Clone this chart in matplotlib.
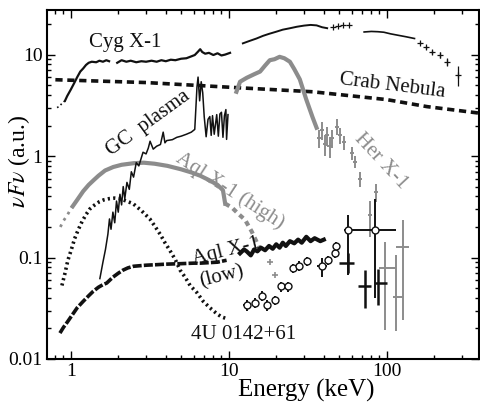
import numpy as np
import matplotlib.pyplot as plt
from matplotlib.ticker import LogLocator, FixedLocator, FixedFormatter, NullFormatter

plt.rcParams['font.family'] = 'Liberation Serif'
plt.rcParams['mathtext.fontset'] = 'stix'

BLACK = '#111111'
GRAY = '#8c8c8c'

# Cyg X-1 (keV, nuFnu)
cyg_dot_e = [0.82, 0.85, 0.88, 0.92]
cyg_dot_v = [3.0, 3.1, 3.3, 3.5]
cyg_lo_e = [0.92, 0.95, 1.0, 1.05, 1.1, 1.15, 1.2, 1.25, 1.3, 1.36, 1.45, 1.52, 1.6, 1.68, 1.75,
            np.nan, 1.97, 2.1, 2.25, 2.4, 2.6, 2.8, 3.0, 3.25, 3.5, 3.75, 4.0, 4.3, 4.6, 5.0,
            5.4, 5.8, 6.1, 6.4, 6.6, 6.8, 7.1, 7.5, 8.0, 8.5, 9.0, 9.5, 10.2]
cyg_lo_v = [3.5, 3.9, 4.5, 5.2, 6.0, 6.8, 7.3, 7.9, 8.3, 8.5, 8.4, 8.7, 8.5, 8.8, 8.6,
            np.nan, 8.3, 8.8, 8.5, 8.7, 8.4, 8.6, 8.5, 8.7, 8.5, 8.8, 8.6, 8.9, 8.8, 9.1,
            9.2, 9.6, 9.9, 10.7, 11.3, 10.6, 10.2, 10.4, 9.9, 10.3, 9.8, 10.0, 10.4]
cyg_hi_e = [12.3, 13.5, 15.0, 16.5, 18.0, 20.0, 22.0, 24.5, 27.0, 30.0, 33.0, 36.0, 39.0, 42.0]
cyg_hi_v = [12.9, 13.6, 14.4, 15.3, 16.0, 16.8, 17.6, 18.2, 18.8, 19.3, 19.6, 19.4, 18.6, 18.2]
cyg_x1_e = [45.5, 49.0, 53.0, 58.0]
cyg_x1_v = [18.7, 19.0, 19.5, 19.5]
cyg_mid_e = [72.0, 80.0, 88.0, 96.0, 106.0, 118.0, 132.0, 150.0]
cyg_mid_v = [16.7, 16.9, 16.8, 16.6, 16.0, 15.5, 15.0, 14.4]
cyg_x2_e = [162.0, 178.0, 195.0, 216.0, 240.0, 282.0]
cyg_x2_v = [13.0, 11.8, 10.6, 9.9, 8.5, 6.3]
cyg_x2_err = [0.4, 0.4, 0.5, 0.6, 0.7, 1.4]

# Crab Nebula
crab_e = [0.8, 3.0, 11.3, 34.0, 100.0, 180.0, 384.0]
crab_v = [5.65, 5.3, 4.72, 4.3, 3.6, 3.07, 2.65]

# GC plasma
gc_e = [1.53, 1.6, 1.66, 1.72, 1.76, 1.8, 1.85, 1.9, 1.95, 2.0, 2.05, 2.1, 2.15, 2.2, 2.27,
        2.35, 2.42, 2.5, 2.6, 2.7, 2.87, 3.0, 3.1, 3.18, 3.33, 3.5, 3.7, 3.85, 3.95, 4.05, 4.4,
        4.7, 5.0, 5.4, 5.8, 6.1, 6.3, 6.4, 6.55, 6.7, 6.85, 7.0, 7.2, 7.4, 7.6, 7.75, 7.9,
        8.1, 8.4, 8.6, 8.8, 9.0, 9.2, 9.4, 9.6, 9.7, 9.9]
gc_v = [0.062, 0.09, 0.12, 0.17, 0.24, 0.19, 0.28, 0.22, 0.36, 0.28, 0.42, 0.33, 0.5, 0.38, 0.55,
        0.47, 0.7, 0.62, 0.86, 0.8, 1.09, 1.05, 1.2, 1.4, 1.17, 1.25, 1.3, 1.72, 1.35, 1.42, 1.45,
        1.53, 1.57, 1.64, 1.72, 1.83, 4.8, 6.0, 3.5, 5.4, 4.2, 2.45, 1.55, 2.3, 2.45, 1.6, 2.5,
        1.64, 2.56, 1.57, 2.6, 2.7, 1.53, 2.5, 2.87, 1.46, 2.56]

# Aql X-1 (high)
aqlh_dot_e = [0.86, 0.9, 0.95, 1.0, 1.03]
aqlh_dot_v = [0.2, 0.23, 0.26, 0.3, 0.32]
aqlh_e = [1.03, 1.1, 1.2, 1.3, 1.4, 1.5, 1.65, 1.86, 2.1, 2.5, 2.9, 3.4, 4.1, 5.0, 5.8,
          6.6, 7.5, 8.5, 9.2, 9.5]
aqlh_v = [0.32, 0.37, 0.45, 0.52, 0.58, 0.64, 0.72, 0.78, 0.82, 0.85, 0.86, 0.84, 0.80, 0.74,
          0.69, 0.64, 0.58, 0.52, 0.46, 0.34]
aqlh_tail_e = [9.5, 10.5, 11.5, 12.7, 14.0, 15.1, 15.8]
aqlh_tail_v = [0.34, 0.31, 0.27, 0.235, 0.18, 0.14, 0.12]
aqlh_x_e = [18.3, 19.6]
aqlh_x_v = [0.091, 0.067]
hard_gray_e = [97.5, 115.0, 126.0]
hard_gray_v = [0.078, 0.041, 0.128]
hard_gray_lo = [0.0195, 0.019, 0.0245]
hard_gray_hi = [0.143, 0.106, 0.232]
hard_gray_elo = [90.0, 109.0, 115.0]
hard_gray_ehi = [115.0, 126.0, 138.0]

# Her X-1
her_e = [11.2, 11.8, 13.0, 14.5, 15.8, 17.0, 18.2, 19.5, 21.0, 22.5, 24.4, 26.0, 28.2,
         31.0, 34.0, 36.0]
her_v = [4.3, 5.4, 5.9, 6.4, 6.8, 7.8, 8.8, 9.0, 9.5, 9.2, 8.5, 7.2, 5.7, 3.6, 2.4, 1.9]
her_x_e = [37.5, 39.0, 40.5, 42.0, 43.5, 45.0, 48.5, 50.6, 54.0, 60.0, 63.0, 67.5, 78.0, 86.0]
her_x_v = [1.5, 1.8, 1.3, 1.6, 1.25, 1.5, 1.95, 1.6, 1.36, 1.07, 0.88, 0.6, 0.26, 0.44]
her_x_err = [0.3, 0.35, 0.3, 0.35, 0.3, 0.3, 0.35, 0.3, 0.2, 0.15, 0.12, 0.1, 0.1, 0.09]

# Aql X-1 (low)
aqll_e = [0.855, 0.9, 0.95, 1.02, 1.1, 1.2, 1.3, 1.39, 1.5, 1.6, 1.69, 1.85, 2.0, 2.14,
          2.3, 2.5, 3.0, 3.5, 4.0, 5.0, 6.0, 6.6, 7.5, 8.5, 9.7]
aqll_v = [0.018, 0.0205, 0.023, 0.027, 0.032, 0.037, 0.042, 0.0465, 0.051, 0.054, 0.056,
          0.064, 0.07, 0.075, 0.079, 0.082, 0.084, 0.085, 0.086, 0.087, 0.088, 0.088, 0.089,
          0.09, 0.094]
aqll_hi_e = [11.8, 12.5, 13.0, 13.8, 14.5, 15.2, 16.0, 17.0, 18.0, 19.0, 20.0, 21.0, 22.0,
             23.0, 24.4, 26.0, 27.5, 29.0, 31.0, 33.0, 35.0, 38.0, 40.0]
aqll_hi_v = [0.11, 0.12, 0.115, 0.105, 0.12, 0.115, 0.125, 0.118, 0.13, 0.122, 0.135, 0.125,
             0.14, 0.13, 0.145, 0.138, 0.15, 0.14, 0.16, 0.145, 0.155, 0.145, 0.15]
aqll_x_e = [57.0, 73.0, 88.5]
aqll_x_v = [0.088, 0.052, 0.056]
aqll_x_lo = [0.07, 0.032, 0.034]
aqll_x_hi = [0.11, 0.075, 0.077]
aqll_x_elo = [50.0, 66.0, 84.0]
aqll_x_ehi = [62.0, 80.0, 100.0]

# 4U 0142+61
u_e = [0.88, 0.92, 0.96, 1.01, 1.06, 1.12, 1.18, 1.25, 1.32, 1.42, 1.52, 1.62, 1.75, 1.9,
       2.05, 2.25, 2.48, 2.8, 3.17, 3.4, 3.68, 3.95, 4.25, 4.6, 4.93, 5.3, 5.7, 6.3, 6.9,
       7.6, 8.4, 9.0, 9.7]
u_v = [0.053, 0.07, 0.094, 0.12, 0.154, 0.19, 0.226, 0.265, 0.3, 0.33, 0.355, 0.37, 0.38,
       0.385, 0.38, 0.36, 0.34, 0.29, 0.24, 0.205, 0.17, 0.14, 0.117, 0.095, 0.075, 0.064,
       0.053, 0.045, 0.037, 0.032, 0.028, 0.026, 0.025]
u_tail_e = [13.0, 14.6, 16.2, 17.5, 19.6, 21.5, 23.6, 25.5, 28.0, 31.5, 39.0, 42.5, 47.0,
            48.0, 57.0, 84.5]
u_tail_v = [0.034, 0.036, 0.042, 0.034, 0.038, 0.052, 0.052, 0.078, 0.083, 0.092, 0.082,
            0.094, 0.11, 0.13, 0.186, 0.186]
u_tail_lo = [0.03, 0.032, 0.037, 0.03, 0.034, 0.046, 0.046, 0.07, 0.074, 0.082, 0.065,
             0.084, 0.1, 0.118, 0.067, 0.04]
u_tail_hi = [0.038, 0.04, 0.047, 0.038, 0.042, 0.058, 0.058, 0.086, 0.092, 0.102, 0.1,
             0.104, 0.12, 0.142, 0.26, 0.38]
u_tail_elo = [12.4, 14.0, 15.6, 16.9, 19.0, 20.8, 22.9, 24.7, 27.0, 30.4, 36.0, 41.0, 45.5,
              46.5, 54.0, 58.5]
u_tail_ehi = [13.6, 15.2, 16.8, 18.1, 20.2, 22.2, 24.3, 26.3, 29.0, 32.6, 42.0, 44.0, 48.5,
              49.5, 60.0, 115.0]

fig = plt.figure(figsize=(4.8, 4.03), dpi=100)
ax = fig.add_axes([0.0973, 0.1092, 0.9006, 0.866])
ax.set_xscale('log')
ax.set_yscale('log')

# Crab
ax.plot(crab_e, crab_v, color=BLACK, lw=2.6, linestyle=(0, (2.0, 1.3)), zorder=2)

# Cyg X-1
ax.plot(cyg_dot_e, cyg_dot_v, color=BLACK, lw=1.2, linestyle=':', zorder=3)
ax.plot(cyg_lo_e, cyg_lo_v, color=BLACK, lw=1.6, zorder=3)
ax.plot(cyg_hi_e, cyg_hi_v, color=BLACK, lw=1.4, zorder=3)
ax.plot(cyg_x1_e, cyg_x1_v, '+', color=BLACK, ms=4, mew=0.9, zorder=3)
ax.plot(cyg_mid_e, cyg_mid_v, color=BLACK, lw=1.2, zorder=3)
ax.errorbar(cyg_x2_e, cyg_x2_v, yerr=cyg_x2_err, fmt='+', color=BLACK, ms=5, mew=0.9,
            elinewidth=0.9, capsize=0, zorder=3)

# Aql X-1 (high)
ax.plot(aqlh_dot_e, aqlh_dot_v, color=GRAY, lw=2.0, linestyle=':', zorder=2)
ax.plot(aqlh_e, aqlh_v, color=GRAY, lw=3.0, zorder=2)
ax.plot(aqlh_tail_e, aqlh_tail_v, color=GRAY, lw=3.0, linestyle=(0, (1.2, 1.0)), zorder=2)
ax.plot(aqlh_x_e, aqlh_x_v, '+', color=GRAY, ms=5, mew=1.2, zorder=2)
ax.errorbar(hard_gray_e, hard_gray_v,
            yerr=[np.subtract(hard_gray_v, hard_gray_lo), np.subtract(hard_gray_hi, hard_gray_v)],
            xerr=[np.subtract(hard_gray_e, hard_gray_elo), np.subtract(hard_gray_ehi, hard_gray_e)],
            fmt='none', ecolor=GRAY, elinewidth=1.4, capsize=0, zorder=2)

# Her X-1
ax.plot(her_e, her_v, color=GRAY, lw=3.0, zorder=2)
ax.errorbar(her_x_e, her_x_v, yerr=her_x_err, xerr=np.multiply(her_x_e, 0.03), fmt='none',
            ecolor=GRAY, elinewidth=1.4, capsize=0, zorder=2)

# GC plasma
ax.plot(gc_e, gc_v, color=BLACK, lw=1.1, zorder=4)

# Aql X-1 (low)
ax.plot(aqll_e, aqll_v, color=BLACK, lw=2.6, linestyle=(0, (2.5, 0.6)), zorder=3)
ax.plot(aqll_hi_e, aqll_hi_v, color=BLACK, lw=3.0, zorder=3)
ax.errorbar(aqll_x_e, aqll_x_v,
            yerr=[np.subtract(aqll_x_v, aqll_x_lo), np.subtract(aqll_x_hi, aqll_x_v)],
            xerr=[np.subtract(aqll_x_e, aqll_x_elo), np.subtract(aqll_x_ehi, aqll_x_e)],
            fmt='none', ecolor=BLACK, elinewidth=1.8, capsize=0, zorder=3)

# 4U 0142+61
ax.plot(u_e, u_v, color=BLACK, lw=2.6, linestyle=(0, (0.6, 0.9)), zorder=3)
ax.errorbar(u_tail_e, u_tail_v,
            yerr=[np.subtract(u_tail_v, u_tail_lo), np.subtract(u_tail_hi, u_tail_v)],
            xerr=[np.subtract(u_tail_e, u_tail_elo), np.subtract(u_tail_ehi, u_tail_e)],
            fmt='o', mfc='white', mec=BLACK, ms=5, mew=1.0, ecolor=BLACK,
            elinewidth=1.4, capsize=0, zorder=3)

# labels on curves
lab = dict(ha='center', va='center', rotation_mode='anchor', fontsize=15)
ax.text(2.2, 13.3, 'Cyg X-1', color=BLACK, **lab)
ax.text(108, 4.94, 'Crab Nebula', color=BLACK, rotation=-7, **lab)
ax.text(3.08, 2.1, 'GC  plasma', color=BLACK, rotation=36, **lab)
ax.text(10.1, 0.454, 'Aql X-1 (high)', color=GRAY, rotation=-33, **lab)
ax.text(92, 0.89, 'Her X-1', color=GRAY, rotation=-47, **lab)
ax.text(9.6, 0.115, 'Aql X-1', color=BLACK, rotation=14, **lab)
ax.text(9.1, 0.064, '(low)', color=BLACK, rotation=14, **lab)
ax.text(12.4, 0.0173, '4U 0142+61', color=BLACK, **lab)

ax.set_xlim(0.705, 384)
ax.set_ylim(0.01, 27.5)

ax.xaxis.set_major_locator(FixedLocator([1, 10, 100]))
ax.xaxis.set_major_formatter(FixedFormatter(['1', '10', '100']))
ax.xaxis.set_minor_locator(LogLocator(base=10, subs=np.arange(2, 10)))
ax.xaxis.set_minor_formatter(NullFormatter())
ax.yaxis.set_major_locator(FixedLocator([0.01, 0.1, 1, 10]))
ax.yaxis.set_major_formatter(FixedFormatter(['0.01', '0.1', '1', '10']))
ax.yaxis.set_minor_locator(LogLocator(base=10, subs=np.arange(2, 10)))
ax.yaxis.set_minor_formatter(NullFormatter())

ax.tick_params(which='both', direction='in', top=True, right=True, labelsize=14, width=1.0)
ax.tick_params(which='major', length=5.5, pad=3)
ax.tick_params(which='minor', length=3)
for s in ax.spines.values():
    s.set_linewidth(1.5)

ax.set_xlabel('Energy (keV)', fontsize=18)
ax.xaxis.label.set_va('center')
ax.xaxis.set_label_coords(0.6, -0.089)
ax.set_ylabel(r'$\nu F\nu$ (a.u.)', fontsize=17)
ax.yaxis.label.set_va('center')
ax.yaxis.set_label_coords(-0.064, 0.566)

fig.savefig('out.png', dpi=100)
